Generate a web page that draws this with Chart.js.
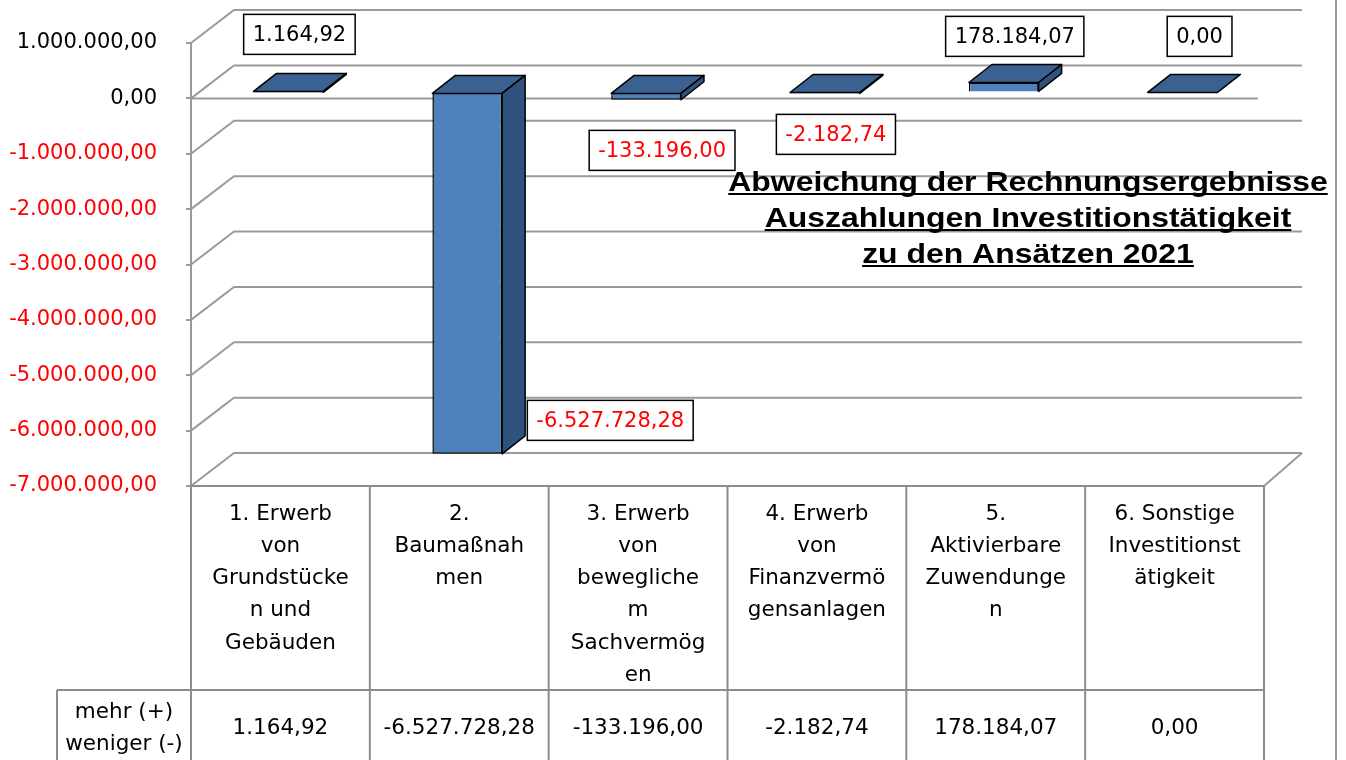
<!DOCTYPE html>
<html lang="de">
<head>
<meta charset="utf-8">
<title>Abweichung der Rechnungsergebnisse</title>
<script src="https://cdn.jsdelivr.net/npm/chart.js@4.4.1/dist/chart.umd.min.js"></script>
<style>
  html, body { margin: 0; padding: 0; background: #fff; }
  #wrap { width: 1346px; height: 760px; position: relative; }
</style>
</head>
<body>
<div id="wrap"><canvas id="myChart"></canvas></div>
<script>
// category text as it is wrapped in the data table
var categoryLines = [
  ["1. Erwerb", "von", "Grundstücke", "n und", "Gebäuden"],
  ["2.", "Baumaßnah", "men"],
  ["3. Erwerb", "von", "bewegliche", "m", "Sachvermög", "en"],
  ["4. Erwerb", "von", "Finanzvermö", "gensanlagen"],
  ["5.", "Aktivierbare", "Zuwendunge", "n"],
  ["6. Sonstige", "Investitionst", "ätigkeit"]
];
var deviationValues = [1164.92, -6527728.28, -133196.00, -2182.74, 178184.07, 0.00];
var seriesName = ["mehr (+)", "weniger (-)"];
var titleLines = ["Abweichung der Rechnungsergebnisse", "Auszahlungen Investitionstätigkeit", "zu den Ansätzen 2021"];
var yMin = -7000000, yMax = 1000000, yStep = 1000000;

// value boxes were moved by hand in Excel: offset from bar centre / zero line
var labelOffsets = [[19, -64], [151, 322], [24, 52], [19, 36], [19, -62], [25, -62]];

var FONT = "'DejaVu Sans', sans-serif";
var GRID = "#9a9a9a";
var WALL_DX = 43, WALL_DY = -33;      // front plane -> back wall
var BAR_SHIFT_X = 8, BAR_SHIFT_Y = -6; // bars sit in the middle of the depth
var BAR_DX = 23, BAR_DY = -18;        // bar depth
var FRONT = "#4f81bd", TOP = "#3b6191", SIDE = "#30527e";

function formatDE(v) {
  var neg = v < 0;
  var parts = Math.abs(v).toFixed(2).split(".");
  var intPart = parts[0].replace(/\B(?=(\d{3})+(?!\d))/g, ".");
  return (neg ? "-" : "") + intPart + "," + parts[1];
}

function line(ctx, pts) {
  ctx.beginPath();
  ctx.moveTo(pts[0][0], pts[0][1]);
  for (var i = 1; i < pts.length; i++) ctx.lineTo(pts[i][0], pts[i][1]);
  ctx.stroke();
}

function poly(ctx, pts, fill) {
  ctx.beginPath();
  ctx.moveTo(pts[0][0], pts[0][1]);
  for (var i = 1; i < pts.length; i++) ctx.lineTo(pts[i][0], pts[i][1]);
  ctx.closePath();
  ctx.fillStyle = fill;
  ctx.fill();
  ctx.stroke();
}

var wallPlugin = {
  id: "wall",
  beforeDatasetsDraw(chart) {
    const {ctx, chartArea: a, scales: {y}} = chart;
    const backRight = a.right + 38;
    ctx.save();
    ctx.strokeStyle = GRID;
    ctx.lineWidth = 2;
    y.ticks.forEach((t) => {
      const py = y.getPixelForValue(t.value);
      line(ctx, [[a.left, py], [a.left + WALL_DX, py + WALL_DY], [backRight, py + WALL_DY]]);
    });
    const pb = y.getPixelForValue(yMin);
    line(ctx, [[backRight, pb + WALL_DY], [a.right, pb]]);
    const p0 = y.getPixelForValue(0);
    line(ctx, [[a.left, p0], [a.right - 6, p0]]);
    // outer border on the right
    line(ctx, [[1336, 0], [1336, chart.height]]);
    ctx.restore();

    ctx.save();
    ctx.translate(BAR_SHIFT_X, BAR_SHIFT_Y);
  },
  afterDatasetsDraw(chart) {
    const ctx = chart.ctx;
    ctx.strokeStyle = "#000";
    ctx.lineWidth = 1.5;
    ctx.lineJoin = "round";
    chart.getDatasetMeta(0).data.forEach((bar) => {
      const p = bar.getProps(["x", "y", "base", "width"], true);
      const x1 = p.x - p.width / 2, x2 = p.x + p.width / 2;
      const top = Math.min(p.y, p.base), bot = Math.max(p.y, p.base);
      poly(ctx, [[x1, top], [x1 + BAR_DX, top + BAR_DY], [x2 + BAR_DX, top + BAR_DY], [x2, top]], TOP);
      if (bot - top > 0.5) {
        poly(ctx, [[x2, top], [x2 + BAR_DX, top + BAR_DY], [x2 + BAR_DX, bot + BAR_DY], [x2, bot]], SIDE);
      }
    });
    ctx.restore();
  }
};

var labelPlugin = {
  id: "valueBoxes",
  afterDraw(chart) {
    const {ctx, scales: {y}} = chart;
    const p0 = y.getPixelForValue(0);
    ctx.save();
    ctx.font = "21px " + FONT;
    ctx.textAlign = "center";
    ctx.textBaseline = "middle";
    chart.getDatasetMeta(0).data.forEach((bar, i) => {
      const v = deviationValues[i];
      const txt = formatDE(v);
      const cx = bar.x + labelOffsets[i][0];
      const cy = p0 + labelOffsets[i][1];
      const w = ctx.measureText(txt).width + 18;
      const h = 40;
      ctx.fillStyle = "#fff";
      ctx.fillRect(cx - w / 2, cy - h / 2, w, h);
      ctx.strokeStyle = "#000";
      ctx.lineWidth = 1.5;
      ctx.strokeRect(cx - w / 2, cy - h / 2, w, h);
      ctx.fillStyle = v < 0 ? "#ff0000" : "#000";
      ctx.fillText(txt, cx, cy + 1);
    });
    ctx.restore();
  }
};

var tablePlugin = {
  id: "dataTable",
  afterDraw(chart) {
    const {ctx, chartArea: a, scales: {x}} = chart;
    const n = categoryLines.length;
    const colW = (a.right - a.left) / n;
    const rowY = 690, bottom = chart.height, headLeft = 57;
    ctx.save();
    ctx.strokeStyle = "#8c8c8c";
    ctx.lineWidth = 2;
    line(ctx, [[a.left, a.bottom], [a.right, a.bottom]]);
    line(ctx, [[headLeft, rowY], [a.right, rowY]]);
    line(ctx, [[headLeft, rowY], [headLeft, bottom]]);
    for (let i = 0; i <= n; i++) {
      const bx = i < n ? x.getPixelForValue(i) - colW / 2 : x.getPixelForValue(n - 1) + colW / 2;
      line(ctx, [[bx, a.bottom], [bx, bottom]]);
    }
    ctx.fillStyle = "#000";
    ctx.font = "21.5px " + FONT;
    ctx.textAlign = "center";
    ctx.textBaseline = "middle";
    categoryLines.forEach((lines, i) => {
      const cx = x.getPixelForValue(i);
      lines.forEach((s, k) => ctx.fillText(s, cx, 514 + k * 32.3));
      ctx.fillText(formatDE(deviationValues[i]), cx, 728);
    });
    ctx.fillText(seriesName[0], (headLeft + a.left) / 2, 712);
    ctx.fillText(seriesName[1], (headLeft + a.left) / 2, 744);
    ctx.restore();
  }
};

var titlePlugin = {
  id: "sheetTitle",
  afterDraw(chart) {
    const ctx = chart.ctx;
    const cx = 1028, baseY = [191, 227, 263], sx = 1.14;
    ctx.save();
    ctx.font = "bold 28px 'Liberation Sans', Arial, sans-serif";
    ctx.textAlign = "center";
    ctx.textBaseline = "alphabetic";
    ctx.fillStyle = "#000";
    ctx.strokeStyle = "#000";
    ctx.lineWidth = 2;
    titleLines.forEach((s, i) => {
      const w = ctx.measureText(s).width * sx;
      ctx.save();
      ctx.translate(cx, baseY[i]);
      ctx.scale(sx, 1);
      ctx.fillText(s, 0, 0);
      ctx.restore();
      line(ctx, [[cx - w / 2, baseY[i] + 3], [cx + w / 2, baseY[i] + 3]]);
    });
    ctx.restore();
  }
};

const ctx = document.getElementById("myChart");
var chart = new Chart(ctx, {
  type: "bar",
  data: {
    labels: categoryLines,
    datasets: [{
      label: seriesName.join(" "),
      data: deviationValues,
      backgroundColor: FRONT,
      borderColor: "#000",
      borderWidth: 1.5,
      categoryPercentage: 1,
      barPercentage: 0.39
    }]
  },
  options: {
    responsive: true,
    maintainAspectRatio: false,
    animation: false,
    layout: { padding: { top: 43, right: 82, bottom: 274, left: 0 } },
    plugins: {
      legend: { display: false },
      title: { display: false },
      tooltip: { enabled: false }
    },
    scales: {
      x: { display: false },
      y: {
        min: yMin,
        max: yMax,
        afterFit(axis) { axis.width = 191; },
        border: { display: true, color: GRID, width: 2 },
        grid: { drawOnChartArea: false, drawTicks: true, tickLength: 5, color: GRID, lineWidth: 2 },
        ticks: {
          stepSize: yStep,
          padding: 29,
          font: { family: FONT, size: 21 },
          color: (c) => (c.tick && c.tick.value < 0 ? "#ff0000" : "#000"),
          callback: (v) => formatDE(v)
        }
      }
    }
  },
  plugins: [wallPlugin, labelPlugin, tablePlugin, titlePlugin]
});
</script>
</body>
</html>
